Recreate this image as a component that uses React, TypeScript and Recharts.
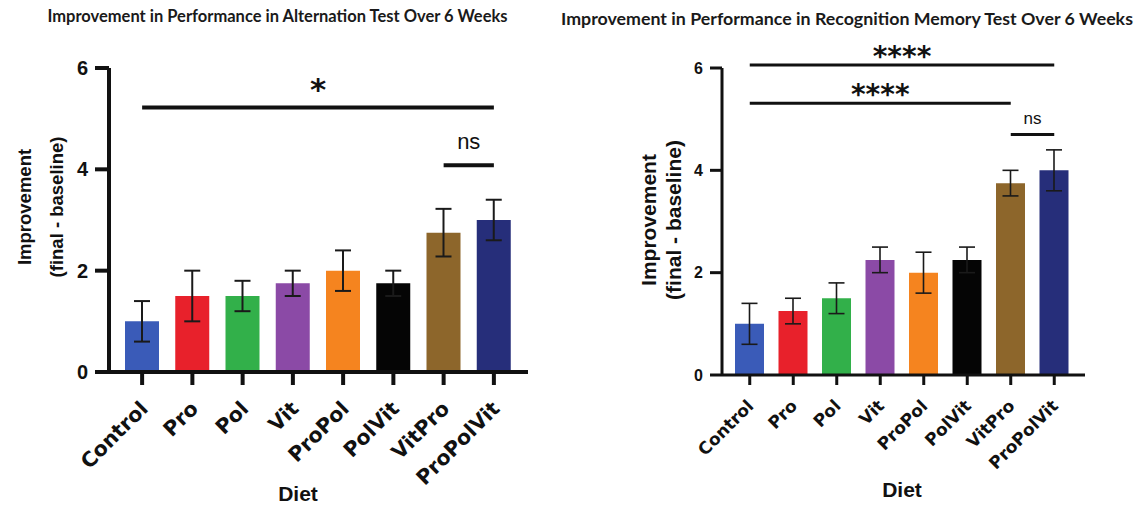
import { BarChart, Bar, XAxis, YAxis, ErrorBar, Cell, ReferenceLine } from "recharts";

const diets = ["Control", "Pro", "Pol", "Vit", "ProPol", "PolVit", "VitPro", "ProPolVit"];
const dietColors = ["#3a5bb8", "#e8212b", "#32b04a", "#8b4aa6", "#f5841f", "#050505", "#8d662b", "#262e7a"];

const alternationMean = [1.0, 1.5, 1.5, 1.75, 2.0, 1.75, 2.75, 3.0];
const alternationErr = [0.4, 0.5, 0.3, 0.25, 0.4, 0.25, 0.47, 0.4];

const recognitionMean = [1.0, 1.25, 1.5, 2.25, 2.0, 2.25, 3.75, 4.0];
const recognitionErr = [0.4, 0.25, 0.3, 0.25, 0.4, 0.25, 0.25, 0.4];

const yTicks = [0, 2, 4, 6];

// significance brackets: from/to groups, level in y units
const alternationBrackets = [
    { from: "Control", to: "ProPolVit", level: 5.22, text: "*" },
    { from: "VitPro", to: "ProPolVit", level: 4.08, text: "ns" },
];
const recognitionBrackets = [
    { from: "Control", to: "ProPolVit", level: 6.06, text: "****" },
    { from: "Control", to: "VitPro", level: 5.31, text: "****" },
    { from: "VitPro", to: "ProPolVit", level: 4.7, text: "ns" },
];

const alternationData = diets.map((d, i) => ({ diet: d, mean: alternationMean[i], err: alternationErr[i] }));
const recognitionData = diets.map((d, i) => ({ diet: d, mean: recognitionMean[i], err: recognitionErr[i] }));

function DietTick(props: any) {
    const { x, y, payload, fontSize, dx, dy } = props;
    return (
        <g transform={`translate(${x + dx},${y + dy})`}>
            <text
                textAnchor="end"
                transform="rotate(-45)"
                fontFamily="DejaVu Sans"
                fontWeight="bold"
                fontSize={fontSize}
                fill="#111"
            >
                {payload.value}
            </text>
        </g>
    );
}

interface PanelProps {
    data: { diet: string; mean: number; err: number }[];
    brackets: { from: string; to: string; level: number; text: string }[];
    width: number;
    margin: { top: number; right: number; bottom: number; left: number };
    pad: { left: number; right: number };
    barSize: number;
    axisWidth: number;
    errWidth: number;
    yTickSize: number;
    yFont: number;
    xTickSize: number;
    xFont: number;
    tickDx: number;
    tickDy: number;
    titleX: number[];
    titleY: number;
    titleFont: number;
    dietX: number;
    dietY: number;
    starFont: number;
    starOffset: number;
    nsFont: number;
    nsOffset: number;
}

function Panel(p: PanelProps) {
    return (
        <BarChart width={p.width} height={505} data={p.data} margin={p.margin}>
            <XAxis
                dataKey="diet"
                height={120}
                padding={p.pad}
                axisLine={{ stroke: "#111", strokeWidth: p.axisWidth }}
                tickLine={{ stroke: "#111", strokeWidth: p.axisWidth }}
                tickSize={p.xTickSize}
                tickMargin={0}
                interval={0}
                tick={(t: any) => <DietTick {...t} fontSize={p.xFont} dx={p.tickDx} dy={p.tickDy} />}
                label={() => (
                    <text
                        x={p.dietX}
                        y={p.dietY}
                        textAnchor="middle"
                        fontFamily="Liberation Sans"
                        fontWeight="bold"
                        fontSize={21}
                        fill="#111"
                    >
                        Diet
                    </text>
                )}
            />
            <YAxis
                width={60}
                domain={[0, 6]}
                ticks={yTicks}
                interval={0}
                axisLine={{ stroke: "#111", strokeWidth: p.axisWidth }}
                tickLine={{ stroke: "#111", strokeWidth: p.axisWidth }}
                tickSize={p.yTickSize}
                tickMargin={7}
                tick={{ fill: "#111", fontSize: p.yFont, fontWeight: "bold", fontFamily: "Liberation Sans" }}
                label={() => (
                    <g fontFamily="Liberation Sans" fontWeight="bold" fill="#111" fontSize={p.titleFont} textAnchor="middle">
                        <text x={p.titleX[0]} y={p.titleY} transform={`rotate(-90 ${p.titleX[0]} ${p.titleY})`} dominantBaseline="central">
                            Improvement
                        </text>
                        <text x={p.titleX[1]} y={p.titleY} transform={`rotate(-90 ${p.titleX[1]} ${p.titleY})`} dominantBaseline="central">
                            (final - baseline)
                        </text>
                    </g>
                )}
            />
            <Bar dataKey="mean" barSize={p.barSize} isAnimationActive={false}>
                {p.data.map((d, i) => (
                    <Cell key={d.diet} fill={dietColors[i]} />
                ))}
                <ErrorBar dataKey="err" width={8} stroke="#1a1a1a" strokeWidth={p.errWidth} direction="y" />
            </Bar>
            {p.brackets.map((b, i) => {
                const ns = b.text === "ns";
                return (
                    <ReferenceLine
                        key={i}
                        segment={[
                            { x: b.from, y: b.level },
                            { x: b.to, y: b.level },
                        ]}
                        stroke="#111"
                        strokeWidth={p.axisWidth}
                        ifOverflow="visible"
                        label={{
                            value: b.text,
                            position: "top",
                            offset: ns ? p.nsOffset : p.starOffset,
                            fill: "#111",
                            fontSize: ns ? p.nsFont : p.starFont,
                            fontWeight: ns ? "normal" : "bold",
                            fontFamily: ns ? "Liberation Sans" : "DejaVu Sans",
                        }}
                    />
                );
            })}
        </BarChart>
    );
}

export default function App() {
    return (
        <div style={{ position: "absolute", left: 0, top: 0, width: 1142, height: 505, background: "#fff" }}>
            <div
                style={{
                    position: "absolute",
                    left: 0,
                    width: 555,
                    top: 6,
                    textAlign: "center",
                    fontFamily: "Lato",
                    fontWeight: 700,
                    fontSize: 16.5,
                    color: "#1a1a1a",
                    whiteSpace: "nowrap",
                }}
            >
                Improvement in Performance in Alternation Test Over 6 Weeks
            </div>
            <div
                style={{
                    position: "absolute",
                    left: 552,
                    width: 590,
                    top: 7,
                    textAlign: "center",
                    fontFamily: "Lato",
                    fontWeight: 700,
                    fontSize: 17.8,
                    color: "#1a1a1a",
                    whiteSpace: "nowrap",
                }}
            >
                Improvement in Performance in Recognition Memory Test Over 6 Weeks
            </div>
            <div style={{ position: "absolute", left: 0, top: 0 }}>
                <Panel
                    data={alternationData}
                    brackets={alternationBrackets}
                    width={560}
                    margin={{ top: 68, right: 32, bottom: 13, left: 49 }}
                    pad={{ left: 8, right: 9 }}
                    barSize={34}
                    axisWidth={4}
                    errWidth={2}
                    yTickSize={14}
                    yFont={20}
                    xTickSize={13}
                    xFont={20.5}
                    tickDx={7}
                    tickDy={25}
                    titleX={[24, 56]}
                    titleY={207}
                    titleFont={18.5}
                    dietX={298}
                    dietY={501}
                    starFont={31}
                    starOffset={8}
                    nsFont={22}
                    nsOffset={16}
                />
            </div>
            <div style={{ position: "absolute", left: 560, top: 0 }}>
                <Panel
                    data={recognitionData}
                    brackets={recognitionBrackets}
                    width={582}
                    margin={{ top: 68, right: 57, bottom: 10, left: 102 }}
                    pad={{ left: 6, right: 9 }}
                    barSize={29}
                    axisWidth={3}
                    errWidth={1.6}
                    yTickSize={12}
                    yFont={16}
                    xTickSize={10}
                    xFont={17}
                    tickDx={5}
                    tickDy={22}
                    titleX={[88, 113]}
                    titleY={220}
                    titleFont={21}
                    dietX={342}
                    dietY={497}
                    starFont={28}
                    starOffset={-1}
                    nsFont={17}
                    nsOffset={11}
                />
            </div>
        </div>
    );
}
